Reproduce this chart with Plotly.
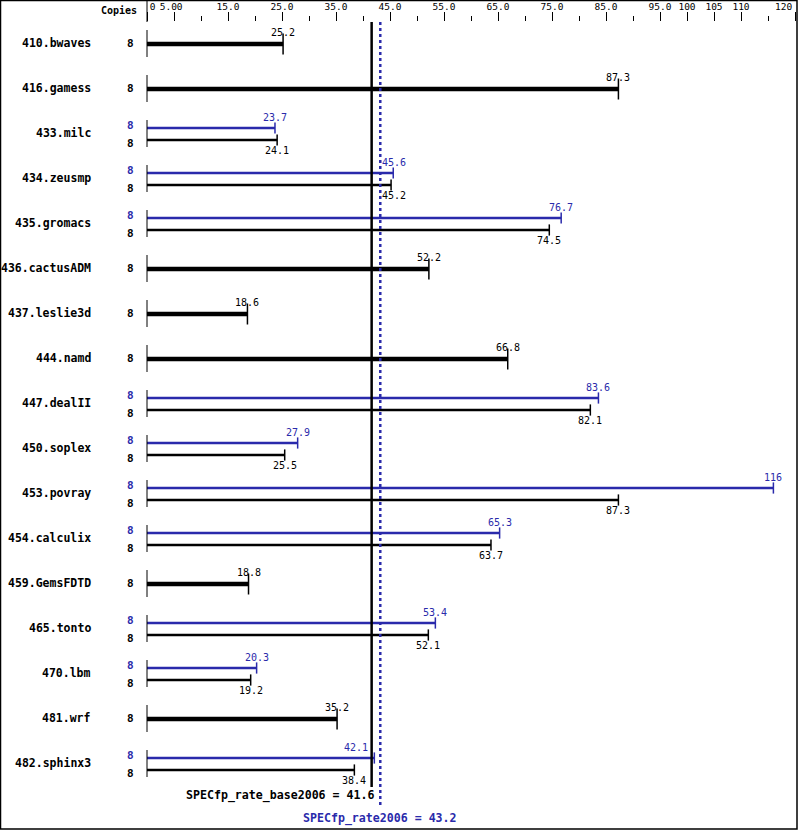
import plotly.graph_objects as go

benchmarks = ["410.bwaves", "416.gamess", "433.milc", "434.zeusmp", "435.gromacs",
              "436.cactusADM", "437.leslie3d", "444.namd", "447.dealII", "450.soplex",
              "453.povray", "454.calculix", "459.GemsFDTD", "465.tonto", "470.lbm",
              "481.wrf", "482.sphinx3"]
copies_base = [8] * 17
copies_peak = [None, None, 8, 8, 8, None, None, None, 8, 8, 8, 8, None, 8, 8, None, 8]
base_ratio = [25.2, 87.3, 24.1, 45.2, 74.5, 52.2, 18.6, 66.8, 82.1, 25.5, 87.3, 63.7,
              18.8, 52.1, 19.2, 35.2, 38.4]
peak_ratio = [None, None, 23.7, 45.6, 76.7, None, None, None, 83.6, 27.9, 116, 65.3,
              None, 53.4, 20.3, None, 42.1]
base_mean = 41.6
peak_mean = 43.2
base_label = "SPECfp_rate_base2006 = 41.6"
peak_label = "SPECfp_rate2006 = 43.2"
major_ticks = [0, 5, 15, 25, 35, 45, 55, 65, 75, 85, 95, 100, 105, 110, 120]
major_text = ["\u00a0\u00a00", "5.00\u00a0", "15.0", "25.0", "35.0", "45.0", "55.0", "65.0",
              "75.0", "85.0", "95.0", "100", "105", "110", ""]
last_tick_text = "120"
minor_ticks = [10, 20, 30, 40, 50, 60, 70, 80, 90, 115]

# layout constants (pixels)
W, H = 799, 831
X0PX, PXU = 147, 5.4          # x pixel of value 0, pixels per unit
TOP, ROW0, ROWH = 22, 44, 45   # plot top, first row centre, row pitch
BLUE = "#2a2aab"
BLACK = "#000000"
MONO = "DejaVu Sans Mono"
CHARW = 6.0

def off(px):
    return px / ROWH

def label_shift(v, text):
    """nudge a value label sideways so it does not sit on the mean lines"""
    c = X0PX + v * PXU
    half = len(text) * CHARW / 2
    lo = X0PX + base_mean * PXU - 2
    hi = X0PX + peak_mean * PXU + 2
    if c + half > lo and c - half < hi:
        if c < (lo + hi) / 2:
            return (lo - 2) - (c + half)
        return hi - (c - half)
    return 0

fig = go.Figure()
shapes = []
ann = []

for i, name in enumerate(benchmarks):
    shapes.append(dict(type="line", xref="x", yref="y", x0=0, x1=0,
                       y0=i - off(14), y1=i + off(13), line=dict(color=BLACK, width=1)))
    ann.append(dict(text="<b>%s</b>" % name, xref="paper", yref="y", x=93 / W, y=i - off(1),
                    xanchor="right", yanchor="middle", showarrow=False,
                    font=dict(family=MONO, size=11.5, color=BLACK)))
    b = base_ratio[i]
    p = peak_ratio[i]
    if p is None:
        fig.add_trace(go.Scatter(x=[0, b], y=[i, i], mode="lines",
                                 line=dict(color=BLACK, width=4.5), hoverinfo="skip"))
        fig.add_trace(go.Scatter(x=[b], y=[i], mode="markers",
                                 marker=dict(symbol="line-ns", size=15,
                                             line=dict(color=BLACK, width=1.5)),
                                 hoverinfo="skip"))
        ann.append(dict(text=str(b), x=b, y=i - off(12), xref="x", yref="y",
                        showarrow=False, yanchor="middle", xshift=label_shift(b, str(b)),
                        font=dict(family=MONO, size=10, color=BLACK)))
        ann.append(dict(text="<b>%d</b>" % copies_base[i], xref="paper", yref="y",
                        x=136 / W, y=i - off(1), xanchor="right", showarrow=False,
                        font=dict(family=MONO, size=11, color=BLACK)))
    else:
        yp = i - off(6)
        yb = i + off(6)
        fig.add_trace(go.Scatter(x=[0, p], y=[yp, yp], mode="lines",
                                 line=dict(color=BLUE, width=2.5), hoverinfo="skip"))
        fig.add_trace(go.Scatter(x=[p], y=[yp], mode="markers",
                                 marker=dict(symbol="line-ns", size=8,
                                             line=dict(color=BLUE, width=1.5)),
                                 hoverinfo="skip"))
        fig.add_trace(go.Scatter(x=[0, b], y=[yb, yb], mode="lines",
                                 line=dict(color=BLACK, width=2.5), hoverinfo="skip"))
        fig.add_trace(go.Scatter(x=[b], y=[yb], mode="markers",
                                 marker=dict(symbol="line-ns", size=8,
                                             line=dict(color=BLACK, width=1.5)),
                                 hoverinfo="skip"))
        ann.append(dict(text=str(p), x=p, y=i - off(17), xref="x", yref="y",
                        showarrow=False, yanchor="middle", xshift=label_shift(p, str(p)),
                        font=dict(family=MONO, size=10, color=BLUE)))
        ann.append(dict(text=str(b), x=b, y=i + off(16), xref="x", yref="y",
                        showarrow=False, yanchor="middle", xshift=label_shift(b, str(b)),
                        font=dict(family=MONO, size=10, color=BLACK)))
        ann.append(dict(text="<b>%d</b>" % copies_peak[i], xref="paper", yref="y",
                        x=136 / W, y=i - off(9), xanchor="right", showarrow=False,
                        font=dict(family=MONO, size=11, color=BLUE)))
        ann.append(dict(text="<b>%d</b>" % copies_base[i], xref="paper", yref="y",
                        x=136 / W, y=i + off(9), xanchor="right", showarrow=False,
                        font=dict(family=MONO, size=11, color=BLACK)))

n = len(benchmarks)
ytop = -(ROW0 - TOP) / ROWH
ybot = (H - ROW0) / ROWH

# reference lines
shapes.append(dict(type="line", xref="x", yref="y", x0=base_mean, x1=base_mean,
                   y0=ytop, y1=(n - 1) + off(23), line=dict(color=BLACK, width=2.5)))
shapes.append(dict(type="line", xref="x", yref="y", x0=peak_mean, x1=peak_mean,
                   y0=ytop, y1=(n - 1) + off(44), line=dict(color=BLUE, width=2.5, dash="dot")))
ann.append(dict(text="<b>%s</b>" % base_label, x=base_mean, y=(n - 1) + off(31),
                xref="x", yref="y", xanchor="right", showarrow=False, xshift=4,
                font=dict(family=MONO, size=11.6, color=BLACK)))
ann.append(dict(text="<b>%s</b>" % peak_label, x=peak_mean, y=(n - 1) + off(54),
                xref="x", yref="y", xanchor="center", showarrow=False,
                font=dict(family=MONO, size=11.6, color=BLUE)))

# header
ph = H - TOP
shapes.append(dict(type="line", xref="x", yref="paper", x0=0, x1=0, y0=1, y1=1 + TOP / ph,
                   line=dict(color=BLACK, width=1)))
ann.append(dict(text="<b>Copies</b>", xref="paper", yref="paper", x=139 / W,
                y=1 + (TOP - 11) / ph, xanchor="right", yanchor="middle", showarrow=False,
                font=dict(family=MONO, size=10, color=BLACK)))
ann.append(dict(text=last_tick_text, xref="x", yref="paper", x=major_ticks[-1],
                y=1 + (TOP - 7) / ph, xanchor="right", yanchor="middle", showarrow=False,
                xshift=-1, font=dict(family=MONO, size=9.5, color=BLACK)))
# frame
shapes.append(dict(type="rect", xref="paper", yref="paper", x0=0.5 / W, x1=(W - 2) / W,
                   y0=2 / ph, y1=1 + (TOP - 0.5) / ph, line=dict(color=BLACK, width=1.5)))

fig.update_layout(
    width=W, height=H,
    margin=dict(l=0, r=0, t=TOP, b=0, pad=0, autoexpand=False),
    plot_bgcolor="white", paper_bgcolor="white",
    showlegend=False,
    shapes=shapes, annotations=ann,
    xaxis=dict(range=[-X0PX / PXU, (W - X0PX) / PXU], side="top", showgrid=False,
               automargin=False,
               zeroline=False, showline=False, ticks="outside", ticklen=9, tickwidth=1,
               tickcolor=BLACK, tickmode="array", tickvals=major_ticks, ticktext=major_text,
               ticklabeloverflow="allow", ticklabelstandoff=-2,
               tickfont=dict(family=MONO, size=9.5, color=BLACK),
               minor=dict(tickmode="array", tickvals=minor_ticks, ticks="outside",
                          ticklen=5, tickwidth=1, tickcolor=BLACK)),
    yaxis=dict(range=[ybot, ytop], showgrid=False, zeroline=False, showline=False,
               automargin=False, showticklabels=False, ticks=""),
)

fig.write_html("out.html", config={"displayModeBar": False},
               post_script="document.body.style.margin='0';document.body.style.overflow='hidden';")
